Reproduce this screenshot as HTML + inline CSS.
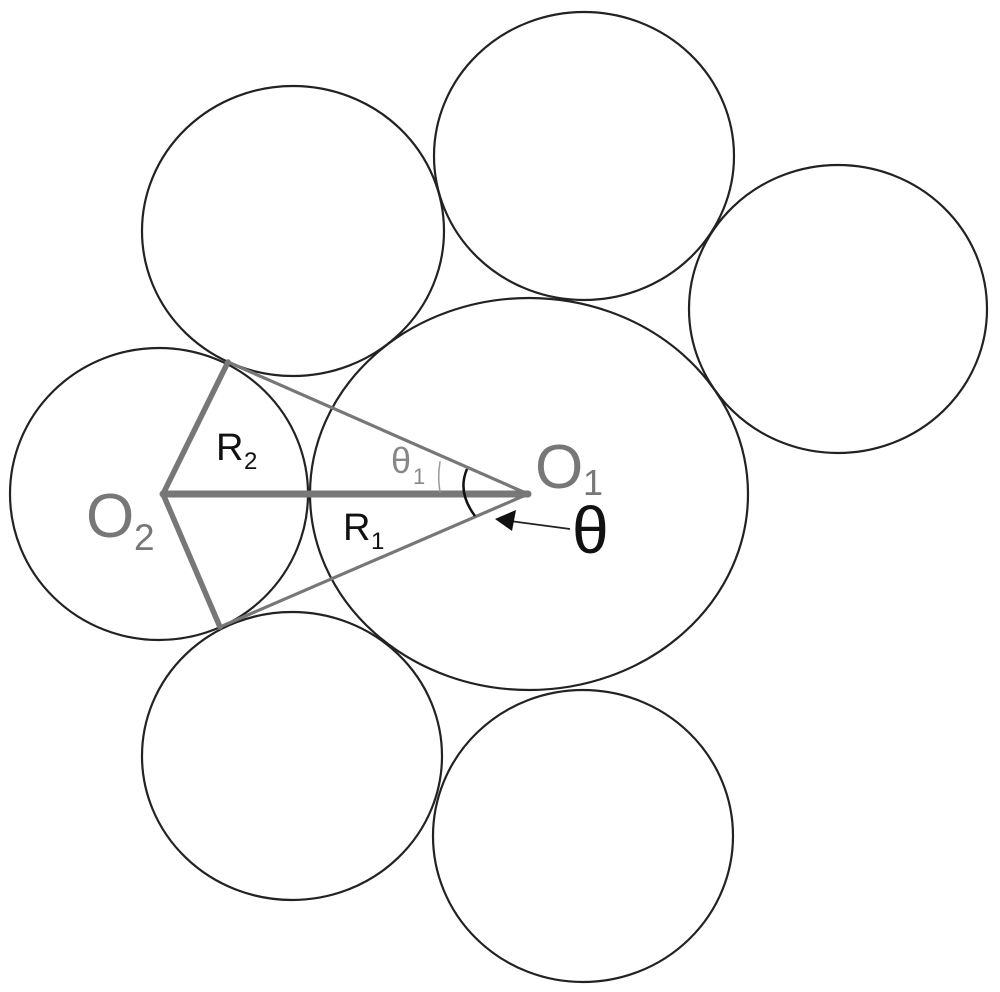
<!DOCTYPE html>
<html><head><meta charset="utf-8"><style>
html,body{margin:0;padding:0;background:#fff;}
svg{display:block;}
text{font-family:"Liberation Sans",Arial,sans-serif;}
</style></head><body>
<svg width="1000" height="992" viewBox="0 0 1000 992" xmlns="http://www.w3.org/2000/svg">
<g fill="none" stroke="#222" stroke-width="2.2">
<ellipse cx="529" cy="494" rx="219" ry="196"/>
<ellipse cx="159" cy="494" rx="149" ry="146"/>
<ellipse cx="293" cy="231" rx="151" ry="145"/>
<ellipse cx="584" cy="156" rx="150" ry="144"/>
<ellipse cx="838" cy="309" rx="149" ry="144"/>
<ellipse cx="292" cy="756" rx="150" ry="144"/>
<ellipse cx="583" cy="836" rx="150" ry="146"/>
</g>
<g stroke="#777" fill="none" stroke-linecap="round" stroke-linejoin="round">
<polyline points="228,362 163,494 220,627" stroke-width="5.5"/>
<line x1="163" y1="494" x2="528" y2="494" stroke-width="7"/>
<line x1="228" y1="362" x2="528" y2="494" stroke-width="3.2"/>
<line x1="220" y1="627" x2="528" y2="494" stroke-width="3.2"/>
<path d="M440,462 A88,88 0 0,0 440,492" stroke-width="1.5" stroke="#999"/>
</g>
<path d="M467,469 Q457,492 475,516" fill="none" stroke="#111" stroke-width="2.5"/>
<line x1="570" y1="529" x2="510" y2="521" stroke="#222" stroke-width="1.8"/>
<polygon points="495,519 516,510 512,531" fill="#111"/>
<text x="86" y="537" font-size="62" fill="#777">O</text>
<text x="134" y="550" font-size="37" fill="#777">2</text>
<text x="535" y="488" font-size="62" fill="#777">O</text>
<text x="583" y="495" font-size="36" fill="#777">1</text>
<text x="572" y="553" font-size="66" fill="#111">θ</text>
<text x="216" y="460" font-size="38" fill="#111">R</text>
<text x="244" y="469" font-size="24" fill="#111">2</text>
<text x="343" y="540" font-size="38" fill="#111">R</text>
<text x="371" y="549" font-size="24" fill="#111">1</text>
<text x="391" y="473" font-size="36" fill="#888">θ</text>
<text x="413" y="484" font-size="22" fill="#888">1</text>
</svg>
</body></html>
